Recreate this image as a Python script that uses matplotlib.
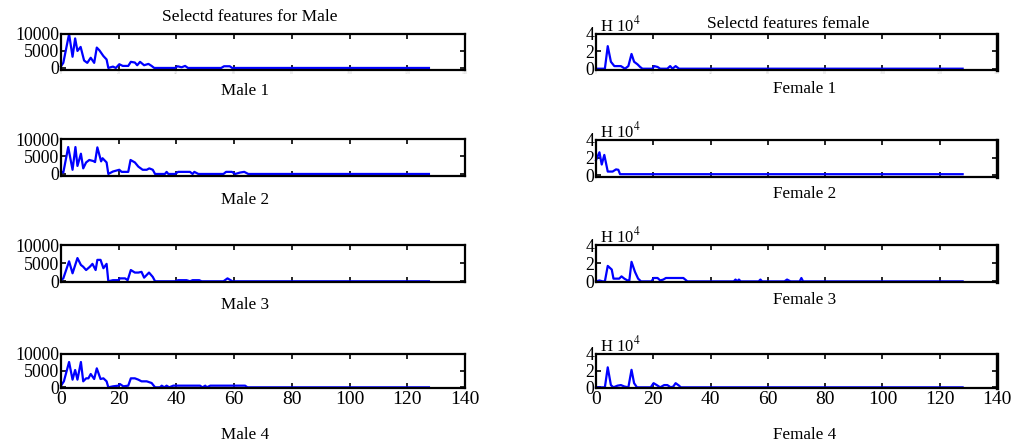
import matplotlib
matplotlib.use("Agg")
import matplotlib.pyplot as plt

# ---------------- data ----------------
male1_x = [0, 0.8, 2.8, 4, 4.9, 5.7, 6.8, 8, 9.1, 10.3, 11.5, 12.4, 13.3, 14.7, 15.8, 16.4, 18, 19, 20.2, 21.4, 23.3, 24.2, 25.6, 26.4, 27.4, 28.8, 30.3, 31.4, 32.3, 39.5, 40.4, 41.8, 43, 44, 55.5, 56.5, 58.5, 59.3, 127.5]
male1_y = [500, 1500, 10000, 3300, 8700, 5000, 6200, 2200, 1500, 3000, 1500, 6000, 5200, 3500, 2500, 0, 400, 0, 1100, 600, 600, 1800, 1600, 800, 1800, 800, 1200, 600, 0, 0, 500, 200, 600, 0, 0, 500, 500, 0, 0]

male2_x = [0, 0.8, 2.5, 4, 5, 5.7, 6.9, 7.7, 8.7, 9.8, 11.2, 11.8, 12.6, 13.9, 14.4, 15.8, 16.4, 18, 20.2, 21, 23.3, 24.1, 25.6, 26.8, 28.3, 29.7, 30.6, 31.8, 32.6, 36, 36.6, 37.2, 39.5, 40.6, 44.7, 45.6, 46.2, 47.6, 56.3, 57.2, 59.2, 60.4, 62, 63.5, 64.9, 127.5]
male2_y = [700, 400, 7700, 1200, 7700, 2300, 5800, 1600, 3300, 4000, 3700, 3400, 7600, 3600, 4500, 3300, 0, 700, 1200, 600, 600, 4000, 3300, 2100, 1200, 1200, 1600, 1200, 0, 0, 600, 0, 0, 600, 600, 0, 600, 0, 0, 600, 600, 0, 400, 600, 0, 0]

male3_x = [0, 0.8, 2.8, 4, 5.7, 6.9, 7.7, 8.7, 10, 10.9, 12, 12.6, 13.7, 14.7, 15.8, 16.4, 18, 19.9, 20.4, 22.2, 23.1, 24.2, 25.6, 26.8, 27.9, 28.8, 30.5, 31.8, 32.6, 39.5, 40.6, 43.5, 44.7, 45.6, 47.9, 48.7, 56.3, 57.7, 59.4, 127.5]
male3_y = [300, 800, 5500, 2200, 6400, 4500, 4000, 3100, 4000, 4800, 3100, 5900, 5900, 3600, 4800, 0, 300, 300, 800, 800, 300, 3100, 2400, 2400, 2600, 1000, 2400, 1200, 0, 0, 300, 300, 0, 300, 300, 0, 0, 800, 0, 0]

male4_x = [0, 1, 2.8, 4, 4.9, 5.7, 6.9, 7.7, 8.7, 9.5, 10.3, 11.5, 12.4, 13.7, 14.7, 15.8, 16.4, 18, 19.9, 20.4, 21.6, 23.3, 24.2, 25.6, 26.8, 27.9, 29.7, 31.4, 32.6, 34.3, 34.9, 35.8, 36.6, 37.5, 38.9, 48.2, 49, 50, 50.5, 51.7, 63.8, 64.6, 127.5]
male4_y = [500, 1800, 7600, 2300, 5200, 2300, 7600, 1800, 2700, 2700, 4000, 2500, 5700, 2500, 2700, 1800, 0, 300, 500, 1000, 300, 500, 2700, 2700, 2300, 1800, 1800, 1300, 0, 0, 500, 0, 500, 0, 500, 500, 0, 500, 0, 500, 500, 0, 0]

female1_x = [0, 3.1, 4.1, 5.2, 6.4, 8.7, 10.1, 11.3, 12.4, 13.3, 14.5, 15.4, 16.2, 19.7, 20.3, 21.5, 22.4, 24.9, 25.9, 26.7, 27.8, 29, 128]
female1_y = [0, 0, 26000, 8000, 3000, 3000, 0, 3000, 17000, 8000, 5000, 2000, 0, 0, 3000, 2000, 0, 0, 3000, 0, 3000, 0, 0]

female2_x = [0, 1.2, 2, 2.9, 4.1, 5.8, 7, 7.8, 8.4, 128]
female2_y = [17000, 26000, 12000, 23000, 4000, 4000, 6500, 6000, 1000, 1000]

female3_x = [0, 1.2, 2.3, 3.1, 4.1, 5.5, 6.1, 8.1, 8.9, 9.9, 11, 11.6, 12.4, 13.6, 14.7, 15.7, 19.4, 20.1, 21.5, 22.4, 23.5, 24.4, 30.5, 31.9, 48.1, 48.7, 49.3, 49.9, 50.5, 56.8, 57.4, 58, 65.8, 66.7, 67.9, 71.1, 71.7, 72.3, 128]
female3_y = [0, 1000, 0, 0, 17000, 13000, 3000, 3000, 5500, 3000, 1000, 0, 21500, 10500, 3000, 0, 0, 3700, 3700, 1000, 2000, 3700, 3700, 0, 0, 2000, 0, 2000, 0, 0, 2000, 0, 0, 2000, 0, 0, 3700, 0, 0]

female4_x = [0, 3.1, 4.1, 5.2, 6.1, 7.5, 8.7, 9.9, 11.3, 12.4, 13.3, 14.3, 19.1, 20.1, 21.2, 22.4, 23.8, 24.9, 26.1, 27, 27.8, 29, 29.6, 128]
female4_y = [0, 0, 24000, 2700, 0, 2000, 2700, 1000, 0, 21000, 5000, 0, 0, 5000, 2700, 0, 2700, 2700, 0, 1000, 5000, 2000, 0, 0]

male_series = [(male1_x, male1_y), (male2_x, male2_y), (male3_x, male3_y), (male4_x, male4_y)]
female_series = [(female1_x, female1_y), (female2_x, female2_y), (female3_x, female3_y), (female4_x, female4_y)]
male_labels = ["Male 1", "Male 2", "Male 3", "Male 4"]
female_labels = ["Female 1", "Female 2", "Female 3", "Female 4"]
x_ticks = [0, 20, 40, 60, 80, 100, 120, 140]
male_yticks = [0, 5000, 10000]
female_yticks = [0, 20000, 40000]
female_yticklabels = ["0", "2", "4"]

# ---------------- figure ----------------
W, H = 1013, 443
plt.rcParams['font.family'] = ['Liberation Serif', 'DejaVu Serif']
plt.rcParams['mathtext.fontset'] = 'stix'
fig = plt.figure(figsize=(W / 100, H / 100), dpi=100)

def px_axes(left, right, top, bottom):
    return fig.add_axes([left / W, 1 - bottom / H, (right - left) / W, (bottom - top) / H])

male_rows = [(34, 70), (139, 176), (245, 282), (354, 388)]
female_rows = [(34, 70), (140, 177), (245, 282), (354, 388)]
male_ylim_low = [-600, -580, -200, -200]
female_ylim_low = [-1500, -2200, -700, -800]
male_label_y = [91, 200, 305, 435]
female_label_y = [89, 194, 300, 435]

def style(ax, row):
    ax.set_xlim(0, 140)
    ax.set_xticks(x_ticks)
    ax.tick_params(axis='both', direction='in', length=3.5, width=1.2,
                   top=True, right=True, colors='black')
    ax.tick_params(axis='y', labelsize=12.8, pad=1)
    ax.tick_params(axis='x', labelsize=14, pad=2)
    for s in ax.spines.values():
        s.set_linewidth(1.6)
    if row == 0:
        ax.tick_params(axis='x', labelsize=3, labelcolor='#cfcfcf', pad=1)
    elif row < 3:
        ax.tick_params(axis='x', labelbottom=False)

for i, (xs, ys) in enumerate(male_series):
    top, bot = male_rows[i]
    ax = px_axes(61, 465, top, bot)
    ax.plot(xs, ys, color='#0000ff', lw=1.6, clip_on=False)
    ax.set_ylim(male_ylim_low[i], 10000)
    ax.set_yticks(male_yticks)
    style(ax, i)
    fig.text(245 / W, 1 - male_label_y[i] / H, male_labels[i],
             ha='center', va='center', fontsize=12.3)

for i, (xs, ys) in enumerate(female_series):
    top, bot = female_rows[i]
    ax = px_axes(596, 997, top, bot)
    ax.plot(xs, ys, color='#0000ff', lw=1.6, clip_on=False)
    ax.set_ylim(female_ylim_low[i], 40000)
    ax.set_yticks(female_yticks)
    ax.set_yticklabels(female_yticklabels)
    style(ax, i)
    ax.spines['right'].set_linewidth(2.4)
    fig.text(805 / W, 1 - female_label_y[i] / H, female_labels[i],
             ha='center', va='center', fontsize=12.3)
    fig.text(600 / W, 1 - (top - 9) / H, r"H 10$^{4}$",
             ha='left', va='center', fontsize=12)

fig.text(250 / W, 1 - 17 / H, "Selectd features for Male",
         ha='center', va='center', fontsize=12.5)
fig.text(788 / W, 1 - 24 / H, "Selectd features female",
         ha='center', va='center', fontsize=12.5)

fig.savefig("out.png", dpi=100)
